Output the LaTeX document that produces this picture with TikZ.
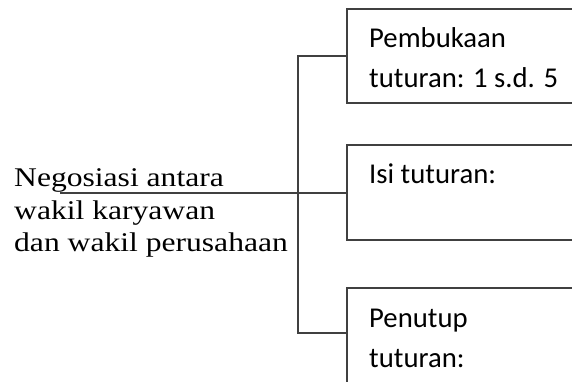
\documentclass[tikz,border=0pt]{standalone}
\usepackage{fontspec}
\newfontfamily\serifx[FakeStretch=1.17]{Liberation Serif}
\newfontfamily\sansx{Carlito}
\definecolor{linegray}{HTML}{404040}
\tikzset{
  conn/.style={draw=linegray, line width=2pt, line join=miter},
  boxnode/.style={draw=linegray, line width=2pt, rectangle, outer sep=0pt, inner sep=0pt, anchor=north west, minimum width=260pt},
  lefttext/.style={anchor=base west, inner sep=0pt, font=\serifx\fontsize{27}{32}\selectfont, text=black},
  boxtext/.style={anchor=base west, inner sep=0pt, font=\sansx\fontsize{28.7}{40}\selectfont, text=black}
}
\begin{document}
\begin{tikzpicture}[x=1pt,y=-1pt]
\useasboundingbox (0,0) rectangle (572,381);
% boxes
\node[boxnode, minimum height=94pt] (box1) at (347,9) {};
\node[boxnode, minimum height=95pt] (box2) at (347,145) {};
\node[boxnode, minimum height=130pt] (box3) at (347,288) {};
% box texts
\node[boxtext] (p1) at (369,47) {Pembukaan};
\node[boxtext] (p2) at (369,87.5) {tuturan: 1 s.d. 5};
\node[boxtext] (i1) at (369,183) {Isi tuturan:};
\node[boxtext] (c1) at (369,327) {Penutup};
\node[boxtext] (c2) at (369,367) {tuturan:};
% left text
\node[lefttext] (t1) at (14,186.5) {Negosiasi antara};
\node[lefttext] (t2) at (14,219.5) {wakil karyawan};
\node[lefttext] (t3) at (14,251.5) {dan wakil perusahaan};
% connectors
\coordinate (spine) at (298,0);
\coordinate (b3in) at (347,333);
\coordinate (start) at (60,192.5);
\draw[conn] (box1.west) -- (box1.west -| spine) -- (b3in -| spine) -- (b3in);
\draw[conn] (start) -- (box2.west);
\end{tikzpicture}
\end{document}
